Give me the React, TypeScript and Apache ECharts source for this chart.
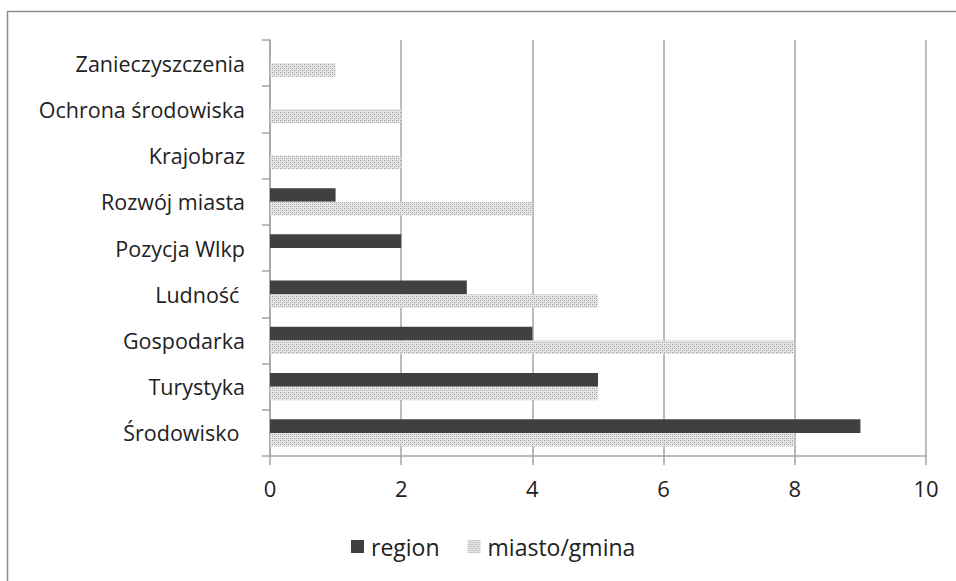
import React, { useEffect, useRef } from "react";
import * as echarts from "echarts";

const categories = [
  "Środowisko ",
  "Turystyka",
  "Gospodarka",
  "Ludność ",
  "Pozycja Wlkp",
  "Rozwój miasta",
  "Krajobraz",
  "Ochrona środowiska",
  "Zanieczyszczenia",
];
const regionValues = [9, 5, 4, 3, 2, 1, 0, 0, 0];
const miastoValues = [8, 5, 8, 5, 0, 4, 2, 2, 1];
const xTicks = { min: 0, max: 10, interval: 2 };

function makeDotPattern(): HTMLCanvasElement {
  const c = document.createElement("canvas");
  c.width = 4;
  c.height = 4;
  const ctx = c.getContext("2d")!;
  ctx.fillStyle = "#e6e6e6";
  ctx.fillRect(0, 0, 4, 4);
  ctx.fillStyle = "#9a9a9a";
  ctx.fillRect(0, 0, 1, 1);
  ctx.fillRect(2, 2, 1, 1);
  ctx.fillStyle = "#c4c4c4";
  ctx.fillRect(2, 0, 1, 1);
  ctx.fillRect(0, 2, 1, 1);
  return c;
}

export default function App() {
  const ref = useRef<HTMLDivElement>(null);
  useEffect(() => {
    if (!ref.current) return;
    const chart = echarts.init(ref.current, undefined, { renderer: "svg" });
    const pattern = makeDotPattern();
    const font = "'Open Sans', sans-serif";
    chart.setOption({
      animation: false,
      backgroundColor: "#ffffff",
      textStyle: { fontFamily: font },
      grid: { left: 270, right: 30, top: 40, bottom: 125, containLabel: false },
      graphic: [
        {
          type: "rect",
          shape: { x: 7.5, y: 11.5, width: 1000, height: 1000 },
          style: { fill: "none", stroke: "#8c8c8c", lineWidth: 1.5 },
          silent: true,
        },
      ],
      legend: {
        bottom: 18,
        left: 346,
        itemWidth: 13,
        itemHeight: 13,
        itemGap: 28,
        icon: "rect",
        textStyle: { fontSize: 23, color: "#222", fontFamily: font, padding: [0, 0, 0, 2] },
        data: ["region", "miasto/gmina"],
      },
      xAxis: {
        type: "value",
        min: xTicks.min,
        max: xTicks.max,
        interval: xTicks.interval,
        axisLine: { show: true, lineStyle: { color: "#a6a6a6", width: 1.5 } },
        axisTick: { show: true, length: 9, lineStyle: { color: "#a6a6a6", width: 1.5 } },
        axisLabel: { fontSize: 22, color: "#222", margin: 21, fontFamily: font },
        splitLine: { show: true, lineStyle: { color: "#a6a6a6", width: 1.5 } },
      },
      yAxis: {
        type: "category",
        data: categories,
        axisLine: { show: true, lineStyle: { color: "#a6a6a6", width: 1.5 } },
        axisTick: { show: true, length: 8, lineStyle: { color: "#a6a6a6", width: 1.5 } },
        axisLabel: { fontSize: 21.5, color: "#222", margin: 25, fontFamily: font },
      },
      series: [
        {
          name: "region",
          type: "bar",
          data: regionValues,
          barGap: "0%",
          barCategoryGap: "41%",
          itemStyle: { color: "#404040" },
        },
        {
          name: "miasto/gmina",
          type: "bar",
          data: miastoValues,
          barGap: "0%",
          barCategoryGap: "41%",
          itemStyle: { color: { image: pattern, repeat: "repeat" } },
        },
      ],
    });
    return () => chart.dispose();
  }, []);
  return (
    <div
      ref={ref}
      style={{ position: "fixed", left: 0, top: 0, width: 956, height: 581 }}
    />
  );
}
